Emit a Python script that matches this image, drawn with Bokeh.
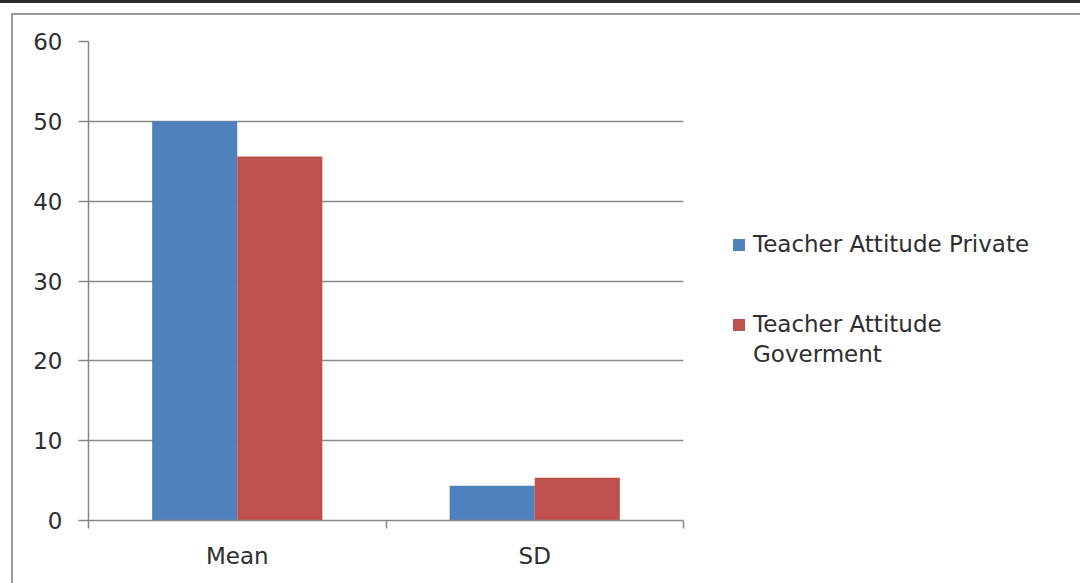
from bokeh.plotting import figure
from bokeh.layouts import row
from bokeh.models import (Range1d, FixedTicker, Legend, LegendItem,
                          ColumnDataSource, InlineStyleSheet)
from bokeh.embed import file_html
from bokeh.resources import INLINE

categories = ["Mean", "SD"]
private_vals = [50.0, 4.35]
gov_vals = [45.6, 5.35]
series_private = "Teacher Attitude Private"
series_gov_lines = ["Teacher Attitude", "Goverment"]
colors = ["#4F81BD", "#C0504D"]
y_ticks = [0, 10, 20, 30, 40, 50, 60]

W, H = 1080, 583
W_MAIN = 700
FONT = "DejaVu Sans"
FS = "23px"
TXT = "#2e2e2e"
AX = "#868686"

centers = [i + 0.5 for i in range(len(categories))]
bar_w = 0.286
src = ColumnDataSource(dict(
    xp=[c - bar_w / 2 for c in centers],
    xg=[c + bar_w / 2 for c in centers],
    p=private_vals, g=gov_vals,
))

css = InlineStyleSheet(css="""
:host { position: relative; overflow: hidden; }
:host::before { content: ""; position: absolute; left: 11px; top: 13px;
  right: -20px; bottom: -20px; border: 2px solid #9a9a9a; z-index: 10;
  pointer-events: none; }
:host::after { content: ""; position: absolute; left: 0; top: 0; right: 0;
  height: 3px; background: #2b2b2b; z-index: 10; pointer-events: none; }
""")

# ---------------- main chart ----------------
p = figure(width=W_MAIN, height=H, output_backend="svg", toolbar_location=None,
           x_range=Range1d(0, len(categories)), y_range=Range1d(0, 60))
p.min_border_left = 88
p.min_border_right = W_MAIN - 88 - 595
p.min_border_top = 41
p.min_border_bottom = H - 41 - 479
p.outline_line_color = None
p.background_fill_color = "white"
p.border_fill_color = "white"

p.vbar(x="xp", top="p", width=bar_w, source=src, fill_color=colors[0], line_color=None)
p.vbar(x="xg", top="g", width=bar_w, source=src, fill_color=colors[1], line_color=None)

p.yaxis.ticker = FixedTicker(ticks=y_ticks)
p.yaxis.axis_line_color = AX
p.yaxis.axis_line_width = 1.5
p.yaxis.major_tick_line_color = AX
p.yaxis.major_tick_line_width = 1.5
p.yaxis.major_tick_out = 10
p.yaxis.major_tick_in = 0
p.yaxis.minor_tick_line_color = None
p.yaxis.major_label_text_font = FONT
p.yaxis.major_label_text_font_size = FS
p.yaxis.major_label_text_color = TXT
p.yaxis.major_label_standoff = 16

p.xaxis.ticker = FixedTicker(ticks=centers, minor_ticks=list(range(len(categories) + 1)))
p.xaxis.major_label_overrides = {c: n for c, n in zip(centers, categories)}
p.xaxis.axis_line_color = AX
p.xaxis.axis_line_width = 1.5
p.xaxis.major_tick_line_color = None
p.xaxis.major_tick_out = 0
p.xaxis.major_tick_in = 0
p.xaxis.minor_tick_line_color = AX
p.xaxis.minor_tick_line_width = 1.5
p.xaxis.minor_tick_out = 8
p.xaxis.minor_tick_in = 0
p.xaxis.major_label_text_font = FONT
p.xaxis.major_label_text_font_size = FS
p.xaxis.major_label_text_color = TXT
p.xaxis.major_label_standoff = 14

p.xgrid.grid_line_color = None
p.ygrid.grid_line_color = "#8a8a8a"
p.ygrid.grid_line_width = 1.5

# ---------------- legend panel ----------------
# same series drawn into a panel whose ranges keep them out of view,
# so that only the legend of this panel is seen
q = figure(width=W - W_MAIN, height=H, output_backend="svg", toolbar_location=None,
           x_range=Range1d(-20, -19), y_range=Range1d(-20, -19))
q.min_border_left = q.min_border_right = q.min_border_top = q.min_border_bottom = 0
q.outline_line_color = None
q.axis.visible = False
q.grid.grid_line_color = None
q.border_fill_color = "white"
q.background_fill_color = "white"

g_priv = q.vbar(x="xp", top="p", width=bar_w, source=src, fill_color=colors[0], line_color=None)
g_gov = q.vbar(x="xg", top="g", width=bar_w, source=src, fill_color=colors[1], line_color=None)
g_none = q.vbar(x="xg", top="g", width=bar_w, source=src, fill_alpha=0, line_alpha=0)


def style(lg):
    lg.glyph_width = 15
    lg.glyph_height = 15
    lg.label_standoff = 7
    lg.padding = 0
    lg.margin = 0
    lg.border_line_color = None
    lg.background_fill_alpha = 0
    lg.label_text_font = FONT
    lg.label_text_font_size = FS
    lg.label_text_color = TXT
    lg.label_height = 26
    lg.spacing = 4


leg_a = Legend(items=[LegendItem(label=series_private, renderers=[g_priv])],
               location=(31, 263))
style(leg_a)
leg_b = Legend(items=[LegendItem(label=series_gov_lines[0], renderers=[g_gov]),
                      LegendItem(label=series_gov_lines[1], renderers=[g_none])],
               location=(31, 153))
style(leg_b)
q.add_layout(leg_a, "center")
q.add_layout(leg_b, "center")

layout = row(p, q, spacing=0)
layout.stylesheets = [css]

open("out.html", "w").write(file_html(layout, INLINE))
